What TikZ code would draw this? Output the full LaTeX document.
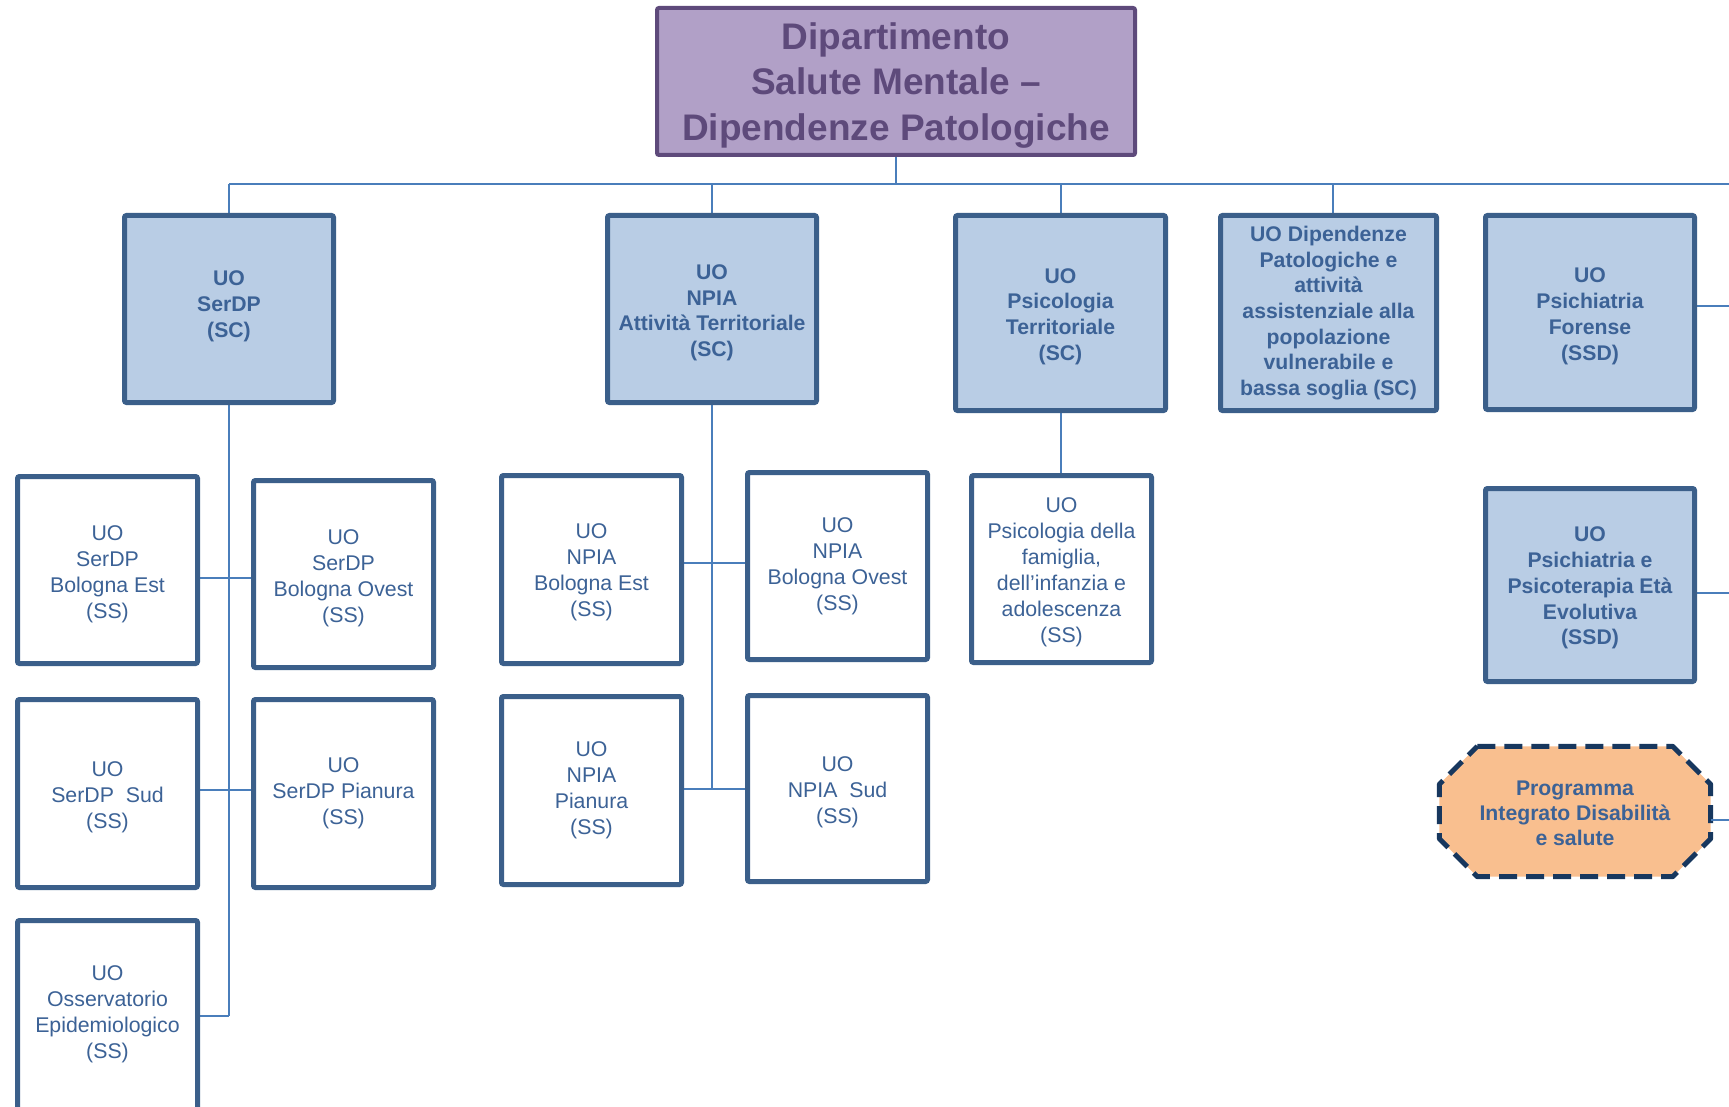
\documentclass[tikz,border=0pt]{standalone}
\usepackage{fontspec}
\setmainfont{Liberation Sans}
\usetikzlibrary{backgrounds}
\definecolor{bord}{HTML}{3B5F8A}
\definecolor{scfill}{HTML}{B9CDE5}
\definecolor{txt}{HTML}{3C6296}
\definecolor{lineblue}{HTML}{4A7EBB}
\definecolor{titfill}{HTML}{B1A0C7}
\definecolor{titbord}{HTML}{5E4A7B}
\definecolor{octfill}{HTML}{F9BF8F}
\definecolor{octbord}{HTML}{17375E}
% text shift helpers: move a multi-line node text down / up by #1 px
\newcommand\tdn[1]{\rule{0pt}{\dimexpr\fontcharht\font`\(+#1pt*2\relax}}
\newcommand\tup[1]{\rule[-\dimexpr\fontchardp\font`\(+#1pt*2\relax]{0pt}{0pt}}
\begin{document}
\begin{tikzpicture}[x=1pt,y=-1pt,
  sz/.style 2 args={minimum width=#1pt,minimum height=#2pt},
  box/.style={draw=bord, line width=5pt, rounded corners=2pt, inner sep=0pt, align=center, text=txt},
  scbox/.style={box, fill=scfill, font=\fontsize{21.2}{25.7}\selectfont\bfseries},
  ssbox/.style={box, fill=white, font=\fontsize{21.3}{26}\selectfont},
  titlebox/.style={draw=titbord, fill=titfill, line width=4pt, rounded corners=2pt, inner sep=0pt, align=center, text=titbord, font=\fontsize{37}{45.5}\selectfont\bfseries},
  octtext/.style={inner sep=0pt, align=center, text=txt, font=\fontsize{21.2}{25}\selectfont\bfseries},
  octline/.style={draw=octbord, fill=octfill, line width=5pt, dash pattern=on 18pt off 9pt, line join=round},
  link/.style={draw=lineblue, line width=2pt}
]
\useasboundingbox (0,0) rectangle (1729,1107);

% title
\node[titlebox, sz={478}{147}] (title) at (896,81.5) {\tdn{4.4}Dipartimento\\Salute Mentale –\\Dipendenze Patologiche};

% SC level
\node[scbox, sz={209}{187}] (serdp) at (229,309) {UO\\SerDP\\(SC)\tup{2.8}};
\node[scbox, sz={209}{187}] (npia) at (712,309) {\tdn{3.9}UO\\NPIA\\Attività Territoriale\\(SC)};
\node[scbox, sz={210}{195}] (psiterr) at (1060.5,313) {\tdn{3.6}UO\\Psicologia\\Territoriale\\(SC)};
\node[scbox, sz={216}{195}] (dip) at (1328.5,313) {UO Dipendenze\\Patologiche e\\attività\\assistenziale alla\\popolazione\\vulnerabile e\\bassa soglia (SC)};
\node[scbox, sz={209}{194}] (forense) at (1590,312.5) {\tdn{3.9}UO\\Psichiatria\\Forense\\(SSD)};
\node[scbox, sz={209}{193}] (psicot) at (1590,585) {\tdn{3.3}UO\\Psichiatria e\\Psicoterapia Età\\Evolutiva\\(SSD)};

% SS SerDP
\node[ssbox, sz={180}{187}] (sest) at (107.5,570) {\tdn{4.4}UO\\SerDP\\Bologna Est\\(SS)};
\node[ssbox, sz={180}{187}] (sovest) at (343.5,574) {\tdn{4.4}UO\\SerDP\\Bologna Ovest\\(SS)};
\node[ssbox, sz={180}{188}] (ssud) at (107.5,793.5) {\tdn{3.9}UO\\SerDP\ \ Sud\\(SS)};
\node[ssbox, sz={180}{188}] (spian) at (343.5,793.5) {UO\\SerDP Pianura\\(SS)};
\begin{scope}
\clip (0,0) rectangle (1729,1107);
\node[ssbox, sz={180}{191}] (oss) at (107.5,1016) {UO\\Osservatorio\\Epidemiologico\\(SS)\tup{2.2}};
\end{scope}

% SS NPIA
\node[ssbox, sz={180}{188}] (nest) at (591.5,569.5) {\tdn{3.3}UO\\NPIA\\Bologna Est\\(SS)};
\node[ssbox, sz={180}{187}] (novest) at (837.5,566) {UO\\NPIA\\Bologna Ovest\\(SS)};
\node[ssbox, sz={180}{188}] (npian) at (591.5,790.5) {UO\\NPIA\\Pianura\\(SS)};
\node[ssbox, sz={180}{186}] (nsud) at (837.5,788.5) {\tdn{3.9}UO\\NPIA\ \ Sud\\(SS)};

% SS Psicologia
\node[ssbox, sz={180}{187}] (fam) at (1061.5,569) {\tdn{3.3}UO\\Psicologia della\\famiglia,\\dell’infanzia e\\adolescenza\\(SS)};

% Programma
\node[octtext, sz={271}{130}] (prog) at (1575,811.5) {\tdn{2.2}Programma\\Integrato Disabilità\\e salute};

% helper coordinates
\coordinate (busL) at (229,184);
\coordinate (busR) at (1729,184);
\coordinate (h1) at (229,578);
\coordinate (h2) at (229,790);
\coordinate (h3) at (229,1016);
\coordinate (k1) at (712,563);
\coordinate (k2) at (712,789);
\coordinate (r1) at (1729,306);
\coordinate (r2) at (1729,593);
\coordinate (r3) at (1729,820);

\begin{scope}[on background layer]
  % octagon
  \path[octline] ([xshift=38pt]prog.north west) -- ([xshift=-38pt]prog.north east)
    -- ([yshift=-38pt]prog.north east) -- ([yshift=38pt]prog.south east)
    -- ([xshift=-38pt]prog.south east) -- ([xshift=38pt]prog.south west)
    -- ([yshift=38pt]prog.south west) -- ([yshift=-38pt]prog.north west) -- cycle;
  % bus
  \draw[link] (title.south) -- (title.south |- busL);
  \draw[link] (busL) -- (busR);
  \draw[link] (serdp.north) -- (serdp.north |- busL);
  \draw[link] (npia.north) -- (npia.north |- busL);
  \draw[link] (psiterr.north) -- (psiterr.north |- busL);
  \draw[link] ([xshift=4.5pt]dip.north) -- ([xshift=4.5pt]dip.north |- busL);
  % SerDP spine
  \draw[link] (serdp.south) -- (h3);
  \draw[link] (sest.east |- h1) -- (sovest.west |- h1);
  \draw[link] (ssud.east |- h2) -- (spian.west |- h2);
  \draw[link] (oss.east |- h3) -- (h3);
  % NPIA spine
  \draw[link] (npia.south) -- (k2);
  \draw[link] (nest.east |- k1) -- (novest.west |- k1);
  \draw[link] (npian.east |- k2) -- (nsud.west |- k2);
  % Psicologia
  \draw[link] (psiterr.south) -- (psiterr.south |- fam.north);
  % right side
  \draw[link] (forense.east |- r1) -- (r1);
  \draw[link] (psicot.east |- r2) -- (r2);
  \draw[link] (prog.east |- r3) -- (r3);
\end{scope}
\end{tikzpicture}
\end{document}
